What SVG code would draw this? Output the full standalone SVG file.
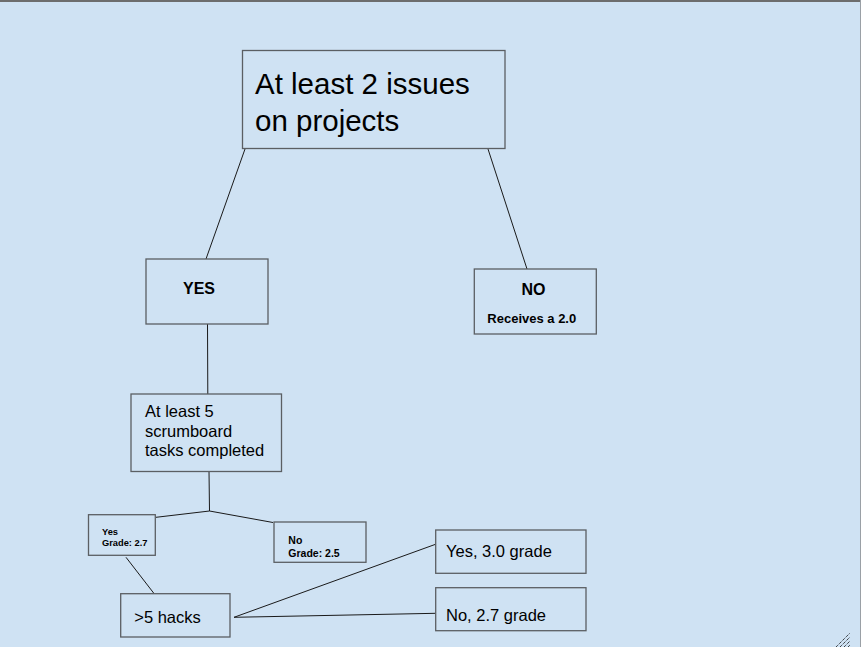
<svg xmlns="http://www.w3.org/2000/svg" width="861" height="647" viewBox="0 0 861 647">
<defs>
<style>
.box{fill:#cfe2f3;stroke:#5b5f63;stroke-width:1.3}
.con{fill:none;stroke:#1a1a1a;stroke-width:1}
text{font-family:"Liberation Sans",Arial,sans-serif;fill:#000}
.b{font-weight:bold}
</style>
</defs>
<rect x="0" y="0" width="861" height="647" fill="#cfe2f3"/>
<rect x="0" y="0" width="861" height="2" fill="#6d6d6d"/>
<line x1="860.5" y1="0" x2="860.5" y2="647" stroke="#9aa0a6" stroke-width="1"/>
<g id="connectors">
<line class="con" x1="245" y1="149" x2="206" y2="259"/>
<line class="con" x1="488" y1="149" x2="527" y2="269"/>
<line class="con" x1="207.5" y1="324" x2="207.8" y2="394"/>
<polyline class="con" points="209,471 209.5,511 156,517.3"/>
<line class="con" x1="209.5" y1="511" x2="273" y2="522.5"/>
<line class="con" x1="126" y1="557.3" x2="154" y2="593.5"/>
<line class="con" x1="234" y1="617.3" x2="435.5" y2="544.3"/>
<line class="con" x1="234" y1="617.3" x2="435.5" y2="613.3"/>
</g>
<g id="n-top">
<rect class="box" x="242.5" y="50.5" width="262.5" height="98"/>
<text x="255" y="94" font-size="29.5">At least 2 issues</text>
<text x="255" y="130.5" font-size="29.5">on projects</text>
</g>
<g id="n-yes">
<rect class="box" x="146" y="259" width="122" height="65"/>
<text class="b" x="183" y="294" font-size="16">YES</text>
</g>
<g id="n-no">
<rect class="box" x="474.3" y="269" width="122" height="65"/>
<text class="b" x="521.5" y="294.7" font-size="16">NO</text>
<text class="b" x="487.3" y="323.3" font-size="13">Receives a 2.0</text>
</g>
<g id="n-scrum">
<rect class="box" x="131" y="394" width="150.5" height="77.5"/>
<text x="145" y="416.7" font-size="16.5">At least 5</text>
<text x="145" y="436.7" font-size="16.5">scrumboard</text>
<text x="145" y="455.7" font-size="16.5">tasks completed</text>
</g>
<g id="n-yes27">
<rect class="box" x="88.5" y="514.7" width="66.8" height="40.6"/>
<text class="b" x="102" y="535" font-size="9.3">Yes</text>
<text class="b" x="102" y="545.7" font-size="9.3">Grade: 2.7</text>
</g>
<g id="n-no25">
<rect class="box" x="274" y="522" width="92" height="40.3"/>
<text class="b" x="288.3" y="544.3" font-size="10.5">No</text>
<text class="b" x="288.3" y="557.3" font-size="10.5">Grade: 2.5</text>
</g>
<g id="n-hacks">
<rect class="box" x="120.7" y="593.7" width="109.3" height="43.3"/>
<text x="134.3" y="623.3" font-size="16.5">&gt;5 hacks</text>
</g>
<g id="n-yes30">
<rect class="box" x="435.7" y="530" width="150.3" height="43.3"/>
<text x="446" y="556.7" font-size="16.5">Yes, 3.0 grade</text>
</g>
<g id="n-no27">
<rect class="box" x="435.7" y="587.7" width="150.3" height="43"/>
<text x="446" y="620.7" font-size="16.5">No, 2.7 grade</text>
</g>
<g id="resize-handle" stroke="#000" stroke-width="1" stroke-dasharray="1 1">
<line x1="836" y1="647" x2="850" y2="633"/>
<line x1="840" y1="647" x2="850" y2="637"/>
<line x1="844" y1="647" x2="850" y2="641"/>
<line x1="848" y1="647" x2="850" y2="645"/>
</g>
</svg>
